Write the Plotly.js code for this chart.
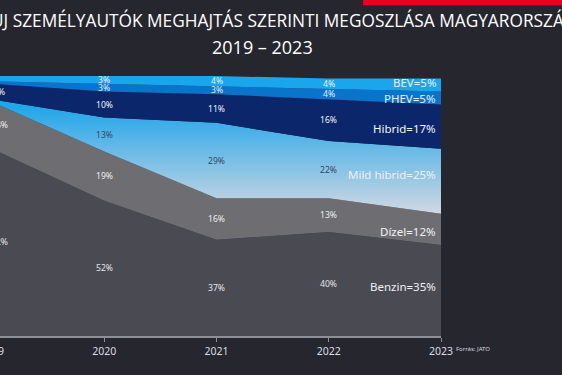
<!DOCTYPE html>
<html>
<head>
<meta charset="utf-8">
<script src="https://cdn.plot.ly/plotly-3.0.1.min.js"></script>
<style>
  html, body { margin: 0; padding: 0; width: 562px; height: 375px; overflow: hidden; background: #26262e; }
  #chart { position: absolute; left: -60px; top: 0; width: 622px; height: 375px; }
</style>
</head>
<body>
<div id="chart"></div>
<script>
// ---- data ----
const years = [2019, 2020, 2021, 2022, 2023];
const tickLabels = ['2019', '2020', '2021', '2022', '2023'];
const seriesNames = ['Benzin', 'Dízel', 'Mild hibrid', 'Hibrid', 'PHEV', 'BEV'];
const benzin     = [72, 52, 37, 40, 35];
const dizel      = [18, 19, 16, 13, 12];
const mildHibrid = [1, 13, 29, 22, 25];
const hibrid     = [6, 10, 11, 16, 17];
const phev       = [1, 3, 3, 4, 5];
const bev        = [2, 3, 4, 4, 5];
const titleLine1 = 'ÚJ SZEMÉLYAUTÓK MEGHAJTÁS SZERINTI MEGOSZLÁSA MAGYARORSZÁGON';
const titleLine2 = '2019 – 2023';
const sourceText = 'Forrás: JATO';

// ---- styles ----
const allSeries = [benzin, dizel, mildHibrid, hibrid, phev, bev];
const fillColors = ['#4a4a53', '#6e6e72', null, '#0b266a', '#0a74cc', '#1aa6ec'];
const labelColors = ['#e6e6ea', '#eeeeee', '#37475f', '#f2f4f8', '#e0f0fb', '#e6f4fc'];
const endLabelColors = ['#f0f0f2', '#f2f2f4', '#eef0f4', '#f4f6fa', '#e4f2fc', '#e4f2fc'];
const endLabelShift = [4, -2, 7, -2, 0, 3];

// layout geometry (pixels inside the div)
const W = 622, H = 375;
const M = {l: 52, r: 121, t: 76, b: 39};
const PW = W - M.l - M.r, PH = H - M.t - M.b;
const SHIFT = 60; // div offset to the left
function px(screenX) { return (screenX + SHIFT - M.l) / PW; }
function py(screenY) { return (H - M.b - screenY) / PH; }

const traces = allSeries.map((vals, i) => {
  const t = {
    x: years, y: vals, name: seriesNames[i],
    type: 'scatter', mode: 'lines', stackgroup: 'one',
    line: {width: 0}, hoverinfo: 'skip'
  };
  if (fillColors[i]) {
    t.fillcolor = fillColors[i];
  } else {
    t.fillcolor = '#8cc8ec';
    t.fillgradient = {type: 'vertical', start: 46, stop: 88,
      colorscale: [[0, '#d6d9e2'], [1, '#22a6ea']]};
  }
  return t;
});

const annotations = [];
years.forEach((yr, j) => {
  let base = 0;
  allSeries.forEach((vals, i) => {
    const v = vals[j];
    const mid = base + v / 2;
    base += v;
    if (j === years.length - 1) {
      annotations.push({
        x: yr, y: mid, xref: 'x', yref: 'y', xanchor: 'right', yanchor: 'middle',
        xshift: -3, yshift: endLabelShift[i], showarrow: false,
        text: seriesNames[i] + '=' + v + '%',
        font: {family: 'Noto Sans, Open Sans, sans-serif', size: 11.5, color: endLabelColors[i]}
      });
    } else if (v >= 3) {
      annotations.push({
        x: yr, y: mid, xref: 'x', yref: 'y', xanchor: 'center', yanchor: 'middle',
        xshift: j === 0 ? 7 : 0, showarrow: false,
        text: v + '%',
        font: {family: 'Noto Sans, DejaVu Sans, sans-serif', size: 8.6, color: labelColors[i]}
      });
    }
  });
});

annotations.push({
  x: px(-11), y: py(20), xref: 'paper', yref: 'paper', xanchor: 'left', yanchor: 'middle',
  showarrow: false, text: titleLine1,
  font: {family: 'Open Sans, sans-serif', size: 17.3, color: '#ffffff'}
});
annotations.push({
  x: px(262), y: py(47), xref: 'paper', yref: 'paper', xanchor: 'center', yanchor: 'middle',
  showarrow: false, text: titleLine2,
  font: {family: 'Open Sans, sans-serif', size: 18, color: '#ffffff'}
});
annotations.push({
  x: px(454), y: py(349), xref: 'paper', yref: 'paper', xanchor: 'left', yanchor: 'middle',
  showarrow: false, text: sourceText,
  font: {family: 'Noto Sans, sans-serif', size: 6, color: '#d8d8de'}
});

const layout = {
  width: W, height: H,
  margin: M,
  paper_bgcolor: '#26262e', plot_bgcolor: '#26262e',
  showlegend: false,
  xaxis: {
    range: [years[0], years[years.length - 1]],
    tickvals: years, ticktext: tickLabels,
    showgrid: false, zeroline: false,
    showline: true, linecolor: '#8e8e96', linewidth: 2,
    ticks: 'outside', ticklen: 4, tickcolor: '#8e8e96', tickwidth: 1,
    tickfont: {family: 'Noto Sans, DejaVu Sans, sans-serif', size: 10.5, color: '#dcdce2'},
    fixedrange: true
  },
  yaxis: {range: [0, 100], visible: false, fixedrange: true},
  annotations: annotations,
  shapes: [{
    type: 'rect', xref: 'paper', yref: 'paper',
    x0: px(363), x1: px(570), y0: py(5), y1: py(-2),
    fillcolor: '#e8001e', line: {width: 0}, layer: 'above'
  }]
};

Plotly.newPlot('chart', traces, layout, {staticPlot: true, displayModeBar: false});
</script>
</body>
</html>
